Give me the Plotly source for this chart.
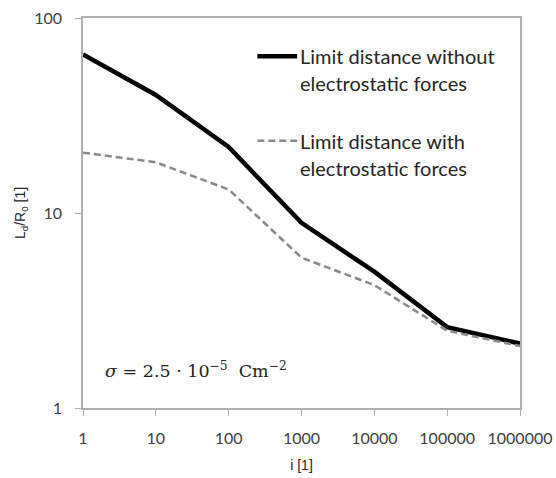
import plotly.graph_objects as go

# ---- data ----
i_values = [1, 10, 100, 1000, 10000, 100000, 1000000]
limit_without = [65.0, 40.3, 21.8, 8.9, 5.0, 2.6, 2.14]
limit_with = [20.4, 18.2, 13.2, 5.9, 4.27, 2.49, 2.08]
x_tick_vals = [1, 10, 100, 1000, 10000, 100000, 1000000]
x_tick_text = ["1", "10", "100", "1000", "10000", "100000", "1000000"]
y_tick_vals = [1, 10, 100]
y_tick_text = ["1", "10", "100"]
legend_without = ["Limit distance without", "electrostatic forces"]
legend_with = ["Limit distance with", "electrostatic forces"]

TICK_FONT = dict(family="Lato, Open Sans, sans-serif", size=16, color="#404040")
AX_COLOR = "#b0b0b0"

fig = go.Figure()
fig.add_trace(go.Scatter(x=i_values, y=limit_without, mode="lines",
                         line=dict(color="#000000", width=4.5), showlegend=False))
fig.add_trace(go.Scatter(x=i_values, y=limit_with, mode="lines",
                         line=dict(color="#8a8a8a", width=2.5, dash="7px,4px"),
                         showlegend=False))

# manual legend (top right, inside the plot)
leg_x0, leg_x1 = 0.399, 0.490
rows = [(0.902, legend_without, dict(color="#000000", width=4.5)),
        (0.685, legend_with, dict(color="#8a8a8a", width=2.5, dash="7px,4px"))]
for yy, texts, ln in rows:
    fig.add_shape(type="line", xref="paper", yref="paper", x0=leg_x0, x1=leg_x1,
                  y0=yy, y1=yy, line=ln)
    for k, t in enumerate(texts):
        fig.add_annotation(text=t, xref="paper", yref="paper", x=leg_x1 + 0.001,
                           y=yy - k * 0.069, xanchor="left", yanchor="middle",
                           showarrow=False,
                           font=dict(family="Lato, Open Sans, sans-serif", size=20,
                                     color="#262626"))

fig.add_annotation(text="<i>σ</i> = 2.5 · 10<sup>−5</sup>  Cm<sup>−2</sup>",
                   xref="paper", yref="paper", x=0.046, y=0.097,
                   xanchor="left", yanchor="middle", showarrow=False,
                   font=dict(family="DejaVu Serif, Liberation Serif, serif", size=17.5,
                             color="#222222"))

fig.update_xaxes(type="log", range=[0, 6], tickvals=x_tick_vals, ticktext=x_tick_text,
                 showgrid=False, zeroline=False, showline=True, linecolor=AX_COLOR,
                 linewidth=1.5, mirror=True, ticks="outside", ticklen=6,
                 tickcolor=AX_COLOR, tickfont=TICK_FONT, automargin=False,
                 ticklabelstandoff=9,
                 title=dict(text="i [1]", font=dict(family="Liberation Sans, Arial",
                                                    size=14, color="#262626"),
                            standoff=14))
fig.update_yaxes(type="log", range=[0, 2], tickvals=y_tick_vals, ticktext=y_tick_text,
                 showgrid=False, zeroline=False, showline=True, linecolor=AX_COLOR,
                 linewidth=1.5, mirror=True, ticks="outside", ticklen=6,
                 tickcolor=AX_COLOR, tickfont=TICK_FONT, automargin=False,
                 ticklabelstandoff=10,
                 title=dict(text="L<sub>d</sub>/R<sub>0</sub> [1]",
                            font=dict(family="Liberation Sans, Arial", size=14,
                                      color="#262626"),
                            standoff=5))

fig.update_layout(width=556, height=478, margin=dict(l=83, r=36, t=18, b=70),
                  paper_bgcolor="white", plot_bgcolor="white")

fig.write_html("out.html")
